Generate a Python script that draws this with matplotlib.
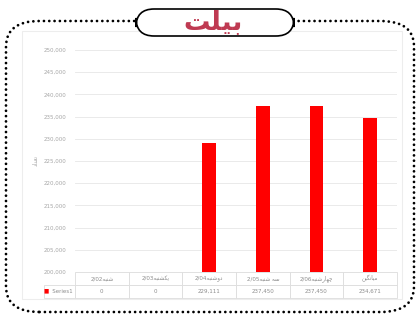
import matplotlib
matplotlib.use("Agg")
import matplotlib.pyplot as plt
from matplotlib.patches import FancyBboxPatch, Rectangle
from matplotlib.ticker import FuncFormatter

plt.rcParams['font.family'] = ['DejaVu Sans', 'Noto Sans CJK SC']

# data
days = ["2/02", "2/03", "2/04", "2/05", "2/06", ""]
day_names = ["شنبه", "یکشنبه", "دوشنبه", "سه شنبه", "چهارشنبه", "میانگین"]
values = [0, 0, 229111, 237450, 237450, 234671]
series_name = "Series1"
title = "بیلت"
ylabel = "تعداد"
yticks = list(range(200000, 250001, 5000))

# simple arabic/persian shaping (matplotlib does not join letters)
FORMS = {
    'ب': '\uFE8F\uFE90\uFE91\uFE92', 'ت': '\uFE95\uFE96\uFE97\uFE98',
    'ل': '\uFEDD\uFEDE\uFEDF\uFEE0', 'ش': '\uFEB5\uFEB6\uFEB7\uFEB8',
    'ن': '\uFEE5\uFEE6\uFEE7\uFEE8', 'ه': '\uFEE9\uFEEA\uFEEB\uFEEC',
    'س': '\uFEB1\uFEB2\uFEB3\uFEB4', 'م': '\uFEE1\uFEE2\uFEE3\uFEE4',
    'ی': '\uFBFC\uFBFD\uFBFE\uFBFF', 'ک': '\uFB8E\uFB8F\uFB90\uFB91',
    'گ': '\uFB92\uFB93\uFB94\uFB95', 'چ': '\uFB7A\uFB7B\uFB7C\uFB7D',
    'ع': '\uFEC9\uFECA\uFECB\uFECC',
    'د': '\uFEA9\uFEAA', 'ر': '\uFEAD\uFEAE', 'و': '\uFEED\uFEEE',
    'ا': '\uFE8D\uFE8E',
}


def shape(s):
    out = []
    for i, c in enumerate(s):
        if c not in FORMS:
            out.append(c)
            continue
        f = FORMS[c]
        prev = s[i - 1] if i > 0 else ''
        nxt = s[i + 1] if i + 1 < len(s) else ''
        jp = prev in FORMS and len(FORMS[prev]) == 4
        jn = nxt in FORMS and len(f) == 4
        if jp and jn:
            out.append(f[3])
        elif jp:
            out.append(f[1])
        elif jn:
            out.append(f[2])
        else:
            out.append(f[0])
    return ''.join(out)[::-1]


cats = [d + shape(n) for d, n in zip(days, day_names)]

fig = plt.figure(figsize=(4.2, 3.19), dpi=100)
W, H = 420, 319

# outer dotted frame
frame = FancyBboxPatch((6 / W, 7 / H), 408 / W, 291 / H,
                       boxstyle="round,pad=0,rounding_size=0.08",
                       transform=fig.transFigure, fill=False,
                       edgecolor='black', linewidth=2.0,
                       linestyle=(0, (0.01, 1.9)), capstyle='round')
fig.patches.append(frame)
# faint inner chart border
fig.patches.append(Rectangle((22 / W, 20 / H), 380 / W, 268 / H,
                             transform=fig.transFigure, fill=False,
                             edgecolor='#ededed', linewidth=0.8))

ax = fig.add_axes([75 / W, 1 - 272 / H, 322 / W, 222 / H])
x = range(len(values))
ax.bar(x, values, width=0.26, color='#ff0000')
ax.set_xlim(-0.5, len(values) - 0.5)
ax.set_ylim(yticks[0], yticks[-1])
ax.set_yticks(yticks)
ax.yaxis.set_major_formatter(FuncFormatter(lambda v, p: f"{int(v):,}"))
ax.tick_params(axis='y', length=0, labelsize=4, labelcolor='#a6a6a6', pad=6)
ax.set_xticks([])
ax.grid(axis='y', color='#e6e6e6', linewidth=0.6)
ax.set_axisbelow(True)
for s in ax.spines.values():
    s.set_visible(False)
ax.set_ylabel(shape(ylabel), fontsize=4, color='#a6a6a6', labelpad=4)

tbl = ax.table(cellText=[[f"{v:,}" for v in values]], rowLabels=["   " + series_name],
               colLabels=cats, cellLoc='center', rowLoc='left',
               bbox=[0, -0.115, 1, 0.115])
tbl.auto_set_font_size(False)
tbl.set_fontsize(4)
for (r, c), cell in tbl.get_celld().items():
    cell.set_edgecolor('#dcdcdc')
    cell.set_linewidth(0.6)
    cell.get_text().set_color('#8c8c8c')
    if c == -1:
        cell.set_width(32 / 322)
ax.text(-31 / 322, -0.087, "■", transform=ax.transAxes, fontsize=4,
        color='#ff0000', va='center', ha='left')

# title pill
pill = FancyBboxPatch((136 / W, 1 - 36 / H), 158 / W, 27 / H,
                      boxstyle="round,pad=0,rounding_size=0.043",
                      transform=fig.transFigure, facecolor='white',
                      edgecolor='black', linewidth=1.2, mutation_aspect=W / H)
fig.patches.append(pill)
fig.text(213 / W, 1 - 22 / H, shape(title), fontsize=19, fontweight='bold',
         color='#bf3a52', ha='center', va='center')

fig.savefig('out.png', dpi=100)
